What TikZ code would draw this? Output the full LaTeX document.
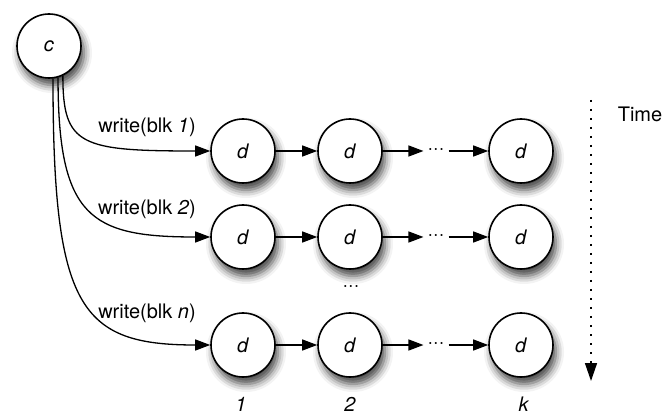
\documentclass[tikz,border=0pt]{standalone}
\usepackage{fontspec}
\setmainfont{TeX Gyre Heros}
\usetikzlibrary{arrows.meta,shadows.blur}

\begin{document}
\begin{tikzpicture}[x=1pt,y=-1pt,
    font=\fontsize{20}{24}\selectfont,
    proc/.style={circle, draw, line width=1.6pt, fill=white, minimum size=64pt, inner sep=0pt,
        blur shadow={shadow xshift=3pt, shadow yshift=-7pt, shadow blur radius=8pt, shadow opacity=75}},
    msg/.style={line width=1.3pt, -{Triangle[length=15pt,width=11pt]}},
    gap/.style={inner sep=4pt}]
    \useasboundingbox (0,0) rectangle (666,419);
    % client
    \node[proc] (c) at (49,46) {\textit{c}};
    % one row of replicas per block
    \node[proc] (d11) at (243,151) {\textit{d}};
    \node[proc] (d12) at (350,151) {\textit{d}};
    \node[gap] (dots1) at (436,151) {···};
    \node[proc] (d1k) at (521,151) {\textit{d}};
    \node[proc] (d21) at (243,237) {\textit{d}};
    \node[proc] (d22) at (350,237) {\textit{d}};
    \node[gap] (dots2) at (436,237) {···};
    \node[proc] (d2k) at (521,237) {\textit{d}};
    \node (vdots) at (351,288) {···};
    \node[proc] (dn1) at (243,345) {\textit{d}};
    \node[proc] (dn2) at (350,345) {\textit{d}};
    \node[gap] (dotsn) at (436,345) {···};
    \node[proc] (dnk) at (521,345) {\textit{d}};
    % chains
    \draw[msg] (d11) -- (d12);
    \draw[msg] (d12) -- (dots1);
    \draw[msg] (dots1) -- (d1k);
    \draw[msg] (d21) -- (d22);
    \draw[msg] (d22) -- (dots2);
    \draw[msg] (dots2) -- (d2k);
    \draw[msg] (dn1) -- (dn2);
    \draw[msg] (dn2) -- (dotsn);
    \draw[msg] (dotsn) -- (dnk);
    % writes from the client
    \draw[msg] (c.-65) .. controls +(0,70) and +(-130,0) .. (d11.west);
    \draw[msg] (c.-74) .. controls +(0,140) and +(-120,0) .. (d21.west);
    \draw[msg] (c.-83) .. controls +(0,230) and +(-130,0) .. (dn1.west);
    \node (w1) at (147,127) {write(blk \textit{1})};
    \node (w2) at (147,209) {write(blk \textit{2})};
    \node (wn) at (147,313) {write(blk \textit{n})};
    % column numbers
    \node (col1) at (241,404) {\textit{1}};
    \node (col2) at (350,404) {\textit{2}};
    \node (colk) at (524,404) {\textit{k}};
    % time axis
    \coordinate (t0) at (591,100);
    \coordinate (t1) at (591,381);
    \draw[line width=1.5pt, dash pattern=on 2pt off 7pt, -{Triangle[length=18pt,width=12pt]}] (t0) -- (t1);
    \node (time) at (640,114) {Time};
\end{tikzpicture}
\end{document}
